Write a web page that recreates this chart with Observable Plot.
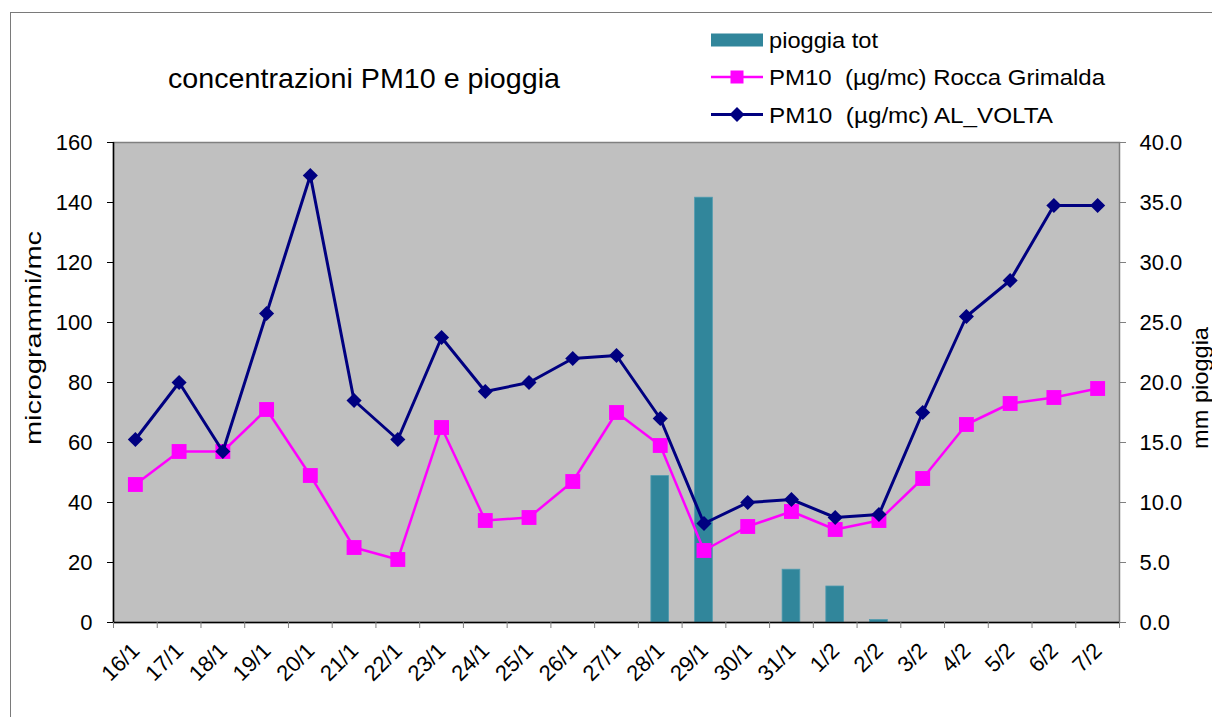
<!DOCTYPE html>
<html>
<head>
<meta charset="utf-8">
<script src="https://cdn.jsdelivr.net/npm/d3@7"></script>
<script src="https://cdn.jsdelivr.net/npm/@observablehq/plot@0.6"></script>
<style>
  html, body { margin: 0; padding: 0; background: #fff; overflow: hidden; }
  #wrap { position: relative; width: 1212px; height: 717px; font-family: "Liberation Sans", Arial, sans-serif; color: #000; }
  #border { position: absolute; left: 9.5px; top: 12px; width: 1400px; height: 900px; border: 1px solid #7a7a7a; box-sizing: border-box; }
  #chart { position: absolute; left: 0; top: 0; }
</style>
</head>
<body>
<div id="wrap">
  <div id="border"></div>
  <div id="chart"></div>
</div>
<script>
// ---- data ----
const dates = ["16/1","17/1","18/1","19/1","20/1","21/1","22/1","23/1","24/1","25/1","26/1","27/1","28/1","29/1","30/1","31/1","1/2","2/2","3/2","4/2","5/2","6/2","7/2"];
const pioggiaTot = [0,0,0,0,0,0,0,0,0,0,0,0,12.2,35.4,0,4.4,3.0,0.2,0,0,0,0,0];
const pm10Rocca = [46,57,57,71,49,25,21,65,34,35,47,70,59,24,32,37,31,34,48,66,73,75,78];
const pm10Volta = [61,80,57,103,149,74,61,95,77,80,88,89,68,33,40,41,35,36,70,102,114,139,139];
const leftTicks = [0,20,40,60,80,100,120,140,160];
const rightTicks = [0,5,10,15,20,25,30,35,40];
const chartTitle = "concentrazioni PM10 e pioggia";
const seriesNames = ["pioggia tot", "PM10  (µg/mc) Rocca Grimalda", "PM10  (µg/mc) AL_VOLTA"];
const axisTitles = ["microgrammi/mc", "mm pioggia"];

const colors = {rain: "#31869b", rocca: "#ff00ff", volta: "#000080"};
const ratio = 160 / 40; // left-axis units per right-axis unit

const n = dates.length;
const rows = dates.map((d, i) => ({i, date: d, rain: pioggiaTot[i], rocca: pm10Rocca[i], volta: pm10Volta[i]}));
const boundaries = d3.range(n + 1).map(i => i - 0.5);

const chart = Plot.plot({
  width: 1212,
  height: 717,
  marginLeft: 113,
  marginRight: 93,
  marginTop: 142,
  marginBottom: 95,
  x: {type: "linear", domain: [-0.5, n - 0.5]},
  y: {domain: [0, 160]},
  style: {fontFamily: "'Liberation Sans', Arial, sans-serif", fontSize: "22px", color: "#000", background: "transparent", overflow: "visible"},
  marks: [
    Plot.frame({fill: "#c0c0c0", stroke: "#808080", strokeWidth: 1.5}),
    Plot.rectY(rows, {x1: d => d.i - 0.2025, x2: d => d.i + 0.2025, y: d => d.rain * ratio, fill: colors.rain, stroke: "#4f9bb0", strokeWidth: 0.8}),
    Plot.ruleY([0], {stroke: "#000", strokeWidth: 1.5}),
    Plot.ruleX([-0.5], {stroke: "#000", strokeWidth: 1.5}),
    Plot.axisY({anchor: "left", ticks: leftTicks, tickSize: 6, tickPadding: 15, label: null, stroke: "#000"}),
    Plot.axisY({anchor: "right", ticks: rightTicks.map(v => v * ratio), tickFormat: v => (v / ratio).toFixed(1), tickSize: 6, tickPadding: 14, label: null, stroke: "#808080"}),
    Plot.axisX({ticks: boundaries, tickSize: 6, tickFormat: () => "", label: null, stroke: "#808080"}),
    Plot.text(rows, {x: "i", text: "date", frameAnchor: "bottom", rotate: -45, textAnchor: "end", lineAnchor: "middle", dx: 0.5, dy: 24.5, fill: "#000", fontSize: 22}),
    Plot.line(rows, {x: "i", y: "rocca", stroke: colors.rocca, strokeWidth: 2.5}),
    Plot.dot(rows, {x: "i", y: "rocca", symbol: "square", r: 8.4, fill: colors.rocca}),
    Plot.line(rows, {x: "i", y: "volta", stroke: colors.volta, strokeWidth: 3}),
    Plot.dot(rows, {x: "i", y: "volta", symbol: "diamond2", r: 6.8, fill: colors.volta})
  ]
});
document.getElementById("chart").appendChild(chart);

const svg = d3.select(chart);

// title
svg.append("text")
  .attr("x", 168).attr("y", 88)
  .attr("text-anchor", "start")
  .attr("font-size", 28)
  .attr("fill", "#000")
  .attr("textLength", 392).attr("lengthAdjust", "spacingAndGlyphs")
  .text(chartTitle);

// axis titles (rotated)
svg.append("text")
  .attr("transform", "translate(41,338) rotate(-90)")
  .attr("text-anchor", "middle")
  .attr("font-size", 22)
  .attr("fill", "#000")
  .attr("textLength", 214).attr("lengthAdjust", "spacingAndGlyphs")
  .text(axisTitles[0]);
svg.append("text")
  .attr("transform", "translate(1208,388) rotate(-90)")
  .attr("text-anchor", "middle")
  .attr("font-size", 22)
  .attr("fill", "#000")
  .attr("textLength", 122).attr("lengthAdjust", "spacingAndGlyphs")
  .text(axisTitles[1]);

// legend
const rowsY = [40, 77, 114.5];
const textLen = [109, 336, 284];
const kinds = ["bar", "square", "diamond"];
const kindColor = [colors.rain, colors.rocca, colors.volta];
const lg = svg.append("g").attr("text-anchor", "start");
seriesNames.forEach((name, k) => {
  const cy = rowsY[k];
  const g = lg.append("g").attr("transform", `translate(710,${cy})`);
  if (kinds[k] === "bar") {
    g.append("rect").attr("x", 1).attr("y", -6.5).attr("width", 52).attr("height", 13).attr("fill", kindColor[k]);
  } else {
    g.append("line").attr("x1", 1).attr("x2", 53).attr("y1", 0).attr("y2", 0).attr("stroke", kindColor[k]).attr("stroke-width", k === 2 ? 3 : 2.5);
    if (kinds[k] === "square") {
      g.append("rect").attr("x", 20.5).attr("y", -6.5).attr("width", 13).attr("height", 13).attr("fill", kindColor[k]);
    } else {
      g.append("path").attr("d", "M27,-7.5L34.5,0L27,7.5L19.5,0Z").attr("fill", kindColor[k]);
    }
  }
  lg.append("text")
    .attr("x", 769).attr("y", cy + 8)
    .attr("text-anchor", "start")
    .attr("font-size", 22)
    .attr("fill", "#000")
    .style("white-space", "pre")
    .attr("textLength", textLen[k]).attr("lengthAdjust", "spacingAndGlyphs")
    .text(name);
});
</script>
</body>
</html>
